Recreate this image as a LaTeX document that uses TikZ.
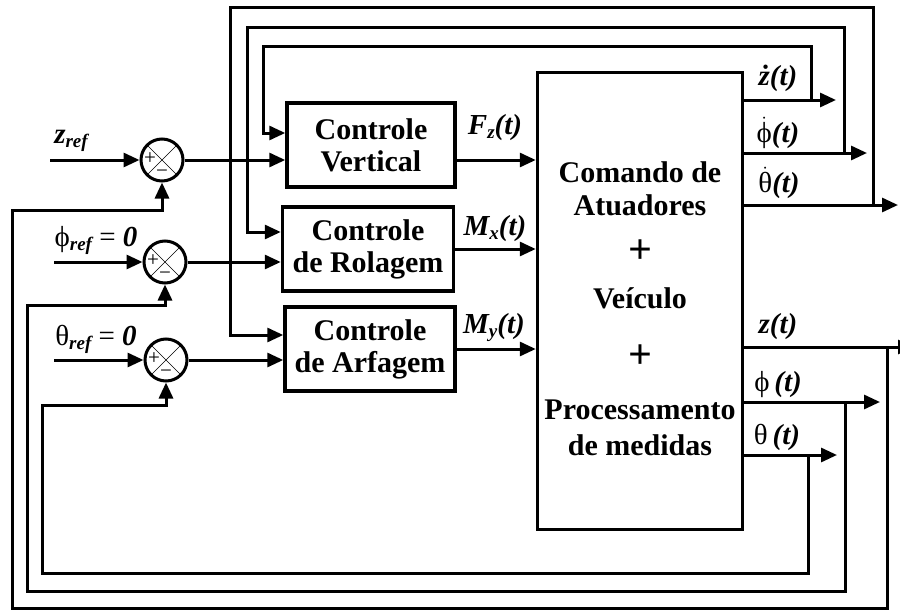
\documentclass[tikz,border=0pt]{standalone}
\usepackage{fontspec}
\setmainfont{Liberation Serif}
\usetikzlibrary{arrows.meta}
\def\bigtxt{\fontsize{30}{32}\selectfont\bfseries}
\def\labtxt{\fontsize{29}{30}\selectfont}
\def\sub#1{\raisebox{-4pt}{\fontsize{19}{19}\selectfont\bfseries\itshape #1}}
\def\dtop#1{\ensuremath{\dot{\hbox{#1}}}}
\def\bi#1{{\bfseries\itshape #1}}

\begin{document}
\begin{tikzpicture}[x=1pt,y=-1pt,line width=3pt,>={Triangle[length=16pt,width=14pt]},
  blk/.style={draw,line width=3.5pt,minimum height=84pt,align=center,inner sep=0pt,font=\bigtxt},
  sgn/.style={font=\fontsize{21}{21}\selectfont,inner sep=0pt,text height=9pt,text depth=0pt},
  sumj/.style={circle,draw,minimum size=42pt,inner sep=0pt,path picture={
    \draw[line width=0.7pt] (path picture bounding box.north west) -- (path picture bounding box.south east)
      (path picture bounding box.north east) -- (path picture bounding box.south west);
    \node[sgn] at ([xshift=9pt]path picture bounding box.west) {+};
    \node[sgn] at ([yshift=8pt]path picture bounding box.south) {−};}},
  lab/.style={font=\labtxt,inner sep=0pt}]
\clip (0,0) rectangle (900,610);
% junctions and controllers
\node[sumj] (s1) at (162,160) {};
\node[sumj] (s2) at (165,262) {};
\node[sumj] (s3) at (166,360) {};
\node[blk,minimum width=168pt] (cv) at (371,145) {Controle\\Vertical};
\node[blk,minimum width=171pt] (cr) at (368,249) {Controle\\de Rolagem};
\node[blk,minimum width=170pt] (ca) at (370,349) {Controle\\de Arfagem};
\node[draw,line width=3.5pt,minimum width=205pt,minimum height=457pt] (pl) at (640,301) {};
\node[font=\bigtxt] at (640,172) {Comando de};
\node[font=\bigtxt] at (640,205) {Atuadores};
\node[font=\fontsize{42}{42}\selectfont\bfseries] at (640,252) {+};
\node[font=\bigtxt] at (640,298) {Veículo};
\node[font=\fontsize{42}{42}\selectfont\bfseries] at (640,357) {+};
\node[font=\bigtxt] at (640,410) {Processamento};
\node[font=\bigtxt] at (640,445) {de medidas};
% references
\coordinate (rz) at (50,160);
\coordinate (rph) at (54,262);
\coordinate (rth) at (54,360);
\node[lab] at (71,141) {\bi{z}\sub{ref}};
\node[lab] at (96,240) {ϕ\sub{ref} = \bi{0}};
\node[lab] at (96,339) {θ\sub{ref} = \bi{0}};
\draw[->] (rz) -- (s1.west);
\draw[->] (rph) -- (s2.west);
\draw[->] (rth) -- (s3.west);
\draw[->] (s1.east) -- (cv.west |- s1);
\draw[->] (s2.east) -- (cr.west |- s2);
\draw[->] (s3.east) -- (ca.west |- s3);
% controller outputs
\draw[->] (cv.east |- s1) -- (pl.west |- s1);
\draw[->] (cr.east) -- (pl.west |- cr.east);
\draw[->] (ca.east) -- (pl.west |- ca.east);
\node[lab] at (495,128) {\bi{F\sub{z}(t)}};
\node[lab] at (495,229) {\bi{M\sub{x}(t)}};
\node[lab] at (494,327) {\bi{M\sub{y}(t)}};
% plant outputs
\coordinate (ozd) at (836,100);
\coordinate (ophd) at (867,153);
\coordinate (othd) at (898,205);
\coordinate (oz) at (914,347);
\coordinate (oph) at (880,402);
\coordinate (oth) at (837,455);
\draw[->] (pl.east |- ozd) -- (ozd);
\draw[->] (pl.east |- ophd) -- (ophd);
\draw[->] (pl.east |- othd) -- (othd);
\draw[->] (pl.east |- oz) -- (oz);
\draw[->] (pl.east |- oph) -- (oph);
\draw[->] (pl.east |- oth) -- (oth);
\node[lab] at (778,78) {\bi{ż(t)}};
\node[lab] at (778,133) {\dtop{ϕ}\bi{(t)}};
\node[lab] at (779,183) {\dtop{θ}\bi{(t)}};
\node[lab] at (778,327) {\bi{z(t)}};
\node[lab] at (778,385) {ϕ\,\bi{(t)}};
\node[lab] at (777,437) {θ\,\bi{(t)}};
% feedback
\draw[->] (811,100) |- (263,47) |- ([yshift=12pt]cv.west);
\draw[->] (844,153) |- (247,28) |- ([yshift=17pt]cr.west);
\draw[->] (873,205) |- (230,8) |- ([yshift=14pt]ca.west);
\draw[->] (887,347) |- (12,608) |- (s1 |- 0,210) -- (s1.south);
\draw[->] (845,402) |- (27,591) |- (s2 |- 0,305) -- (s2.south);
\draw[->] (808,455) |- (42,573) |- (s3 |- 0,405) -- (s3.south);
\end{tikzpicture}
\end{document}
